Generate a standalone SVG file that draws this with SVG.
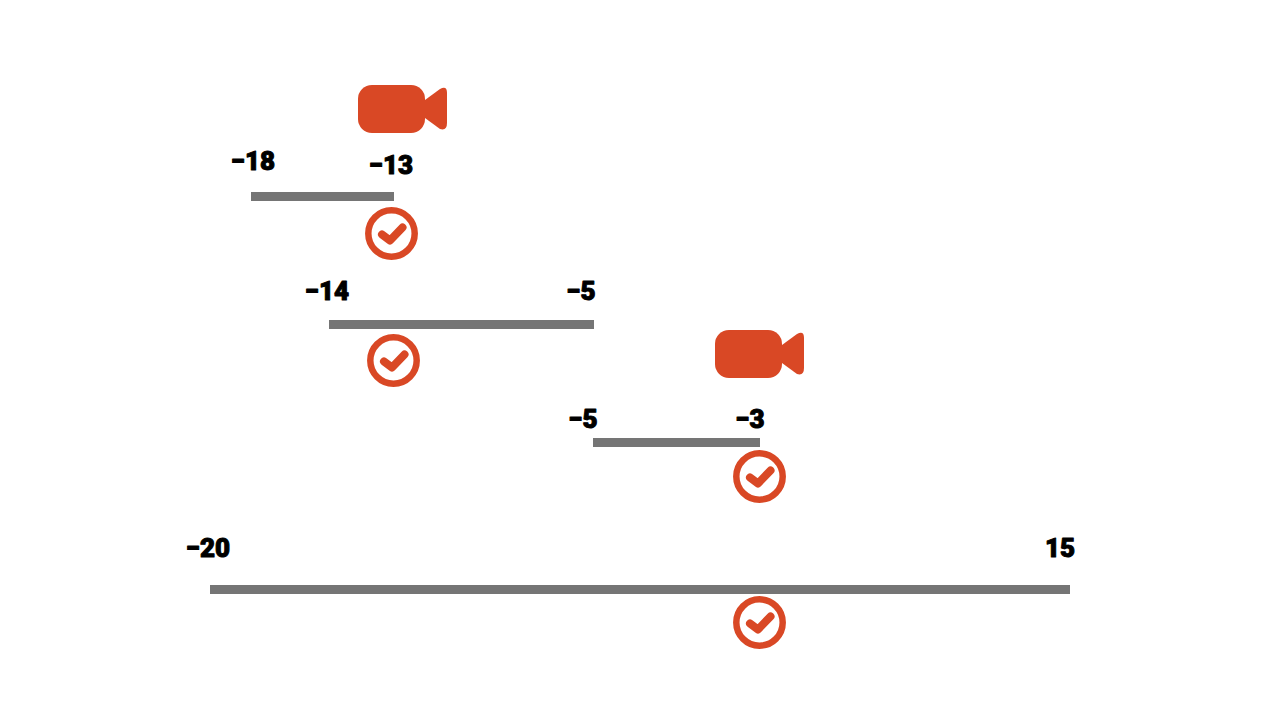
<svg xmlns="http://www.w3.org/2000/svg" width="1280" height="720" viewBox="0 0 1280 720">
<style>
.bar{fill:#757575}
.lbl{font-family:"Roboto","Liberation Sans",sans-serif;font-weight:900;font-size:26px;fill:#000;stroke:#000;stroke-width:1;stroke-linejoin:round;text-anchor:middle}
.ring{fill:none;stroke:#d94825;stroke-width:6.5}
.tick{fill:none;stroke:#d94825;stroke-width:8;stroke-linecap:round;stroke-linejoin:round}
.cam{fill:#d94825}
</style>
<defs>
<g id="check"><circle class="ring" r="23.2"/><path class="tick" d="M-9.5,1 L-1.5,7 L11,-6"/></g>
<g id="camera"><rect class="cam" x="0" y="0" width="67" height="48" rx="14"/><path class="cam" d="M67,15 L82,4 Q89,0 89,8 L89,38 Q89,46 82,44 L67,33 Z"/></g>
</defs>
<rect width="1280" height="720" fill="#fff"/>
<g id="connectors">
<rect class="bar" x="251" y="192" width="143" height="9"/>
<rect class="bar" x="329" y="320" width="265" height="9"/>
<rect class="bar" x="593" y="438" width="167" height="9"/>
<rect class="bar" x="210" y="585" width="860" height="9"/>
</g>
<g id="camera-1"><use href="#camera" x="358" y="85"/></g>
<g id="camera-2"><use href="#camera" x="715" y="330"/></g>
<g id="check-1"><use href="#check" x="391.5" y="233.5"/></g>
<g id="check-2"><use href="#check" x="393.5" y="360.5"/></g>
<g id="check-3"><use href="#check" x="759.5" y="476.5"/></g>
<g id="check-4"><use href="#check" x="759.5" y="622.5"/></g>
<g id="labels">
<text class="lbl" x="253" y="169.500">−18</text>
<text class="lbl" x="391" y="173.500">−13</text>
<text class="lbl" x="327" y="300">−14</text>
<text class="lbl" x="581" y="300">−5</text>
<text class="lbl" x="583" y="428">−5</text>
<text class="lbl" x="750" y="428">−3</text>
<text class="lbl" x="208" y="556.500">−20</text>
<text class="lbl" x="1060" y="556.500">15</text>
</g>
</svg>
